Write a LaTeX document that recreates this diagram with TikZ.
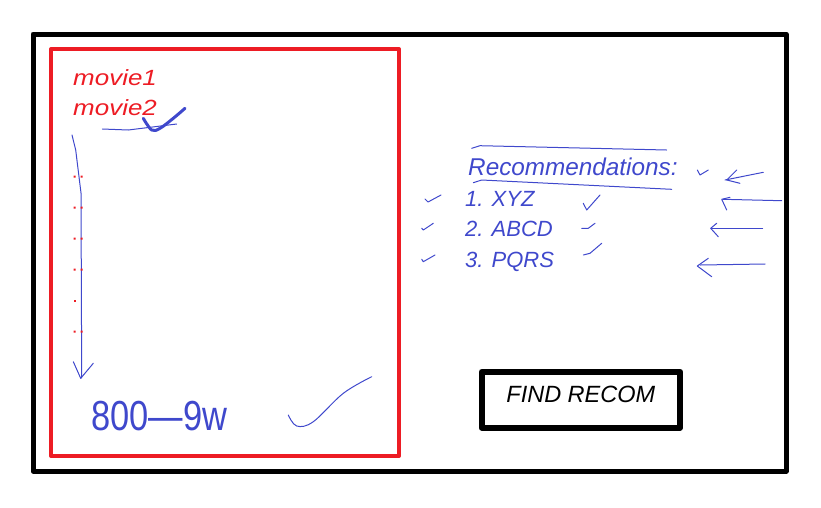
\documentclass[tikz,border=0pt]{standalone}
\usepackage{fontspec}
\setmainfont{Liberation Sans}
\usetikzlibrary{arrows}
\definecolor{pen}{RGB}{63,72,204}
\definecolor{marker}{RGB}{237,28,36}

\begin{document}
\begin{tikzpicture}[line cap=round,line join=round,x=1pt,y=-1pt]
		\useasboundingbox (0,0) rectangle (821,507);
		\tikzset{
			scribble/.style={color=pen,line width=1pt},
			redlabel/.style={color=marker,anchor=base west,inner sep=0pt,font=\fontsize{22}{22}\selectfont\itshape,xscale=1.18},
			bluelabel/.style={color=pen,anchor=base west,inner sep=0pt,font=\fontsize{22}{22}\selectfont\itshape}
		}

		% Fenster und Filmliste
		\draw[color=black,line width=5pt] (33,34) rectangle (786,471);
		\draw[color=marker,line width=4pt] (51,49) rectangle (399,456);

		\node[redlabel] (movieA) at (73,85) {movie1};
		\node[redlabel] (movieB) at (73,115.7) {movie2};
		\draw[scribble] (102.3,129) -- (128.3,130) -- (176.7,124);
		\draw[color=pen,line width=3pt] plot[smooth,tension=0.6] coordinates {(143.3,118.3) (151.7,130) (160,128.3) (173.3,118.3) (185,108.3)};

		% Pfeil nach unten mit Punkten
		\draw[scribble] (72,135) -- (75.7,150) -- (79,176.7) -- (81,193) -- (81.7,378);
		\draw[scribble] (73.3,361.7) -- (80.7,378.3) -- (93.3,363.3);
		\foreach \y in {176.7,207.7,238.7,269.7,331.7}
			\fill[color=marker] (73.7,\y-1) rectangle (75.7,\y+1) (80.7,\y-1) rectangle (82.7,\y+1);
		\fill[color=marker] (73.7,299.7) rectangle (75.7,301.7);

		\node[color=pen,anchor=base west,inner sep=0pt,font=\fontsize{42}{42}\selectfont,xscale=0.82] (size) at (91,430) {800—9w};
		\draw[scribble] plot[smooth,tension=0.6] coordinates {(288.3,415) (296.7,426) (313.3,421.7) (343.3,393.3) (371.7,376.7)};

		% Empfehlungen
		\draw[scribble] (471.7,148.3) -- (480,145.7) -- (666.7,150);
		\node[bluelabel,font=\fontsize{24.3}{24}\selectfont\itshape] (title) at (468,175) {Recommendations:};
		\draw[scribble] (473.3,182.7) -- (481.7,180) -- (671.7,189.3);
		\node[bluelabel] (recA) at (465,206) {1. XYZ};
		\node[bluelabel] (recB) at (465,236.7) {2. ABCD};
		\node[bluelabel] (recC) at (465,267.7) {3. PQRS};

		% Haken
		\draw[scribble] (697.3,170) -- (700,175) -- (708.3,170);
		\draw[scribble] (425,199) -- (428,202) -- (441,195);
		\draw[scribble] (421.7,228.3) -- (423.3,230) -- (433.3,223.3);
		\draw[scribble] (421.7,259.3) -- (423.3,261.7) -- (435,255);
		\draw[scribble] (583.3,203.3) -- (586.7,210) -- (600,195);
		\draw[scribble] (581.7,228.3) -- (588.3,228.3) -- (595,223.3);
		\draw[scribble] (583.3,255) -- (590,253.3) -- (601.7,243.3);

		% Pfeile nach links
		\draw[scribble] (763.3,172.3) -- (725,180);
		\draw[scribble] (736.7,170) -- (726.7,180) -- (740,183.3);
		\draw[scribble] (781.7,200.7) -- (723.3,199.3);
		\draw[scribble] (730,197.3) -- (721.7,199.3) -- (726.7,210);
		\draw[scribble] (762.7,228.3) -- (711.7,228.3);
		\draw[scribble] (716.7,223.3) -- (710.7,228.3) -- (718.3,236.7);
		\draw[scribble] (765,264) -- (700,265);
		\draw[scribble] (708.3,258.3) -- (697.3,266) -- (711.7,276.7);

		% Knopf
		\draw[color=black,line width=6pt] (481.7,371.7) rectangle (680,427.7);
		\node[color=black,inner sep=0pt,font=\fontsize{23.5}{24}\selectfont\itshape] (find) at (580.8,394.5) {FIND RECOM};
	\end{tikzpicture}
\end{document}
